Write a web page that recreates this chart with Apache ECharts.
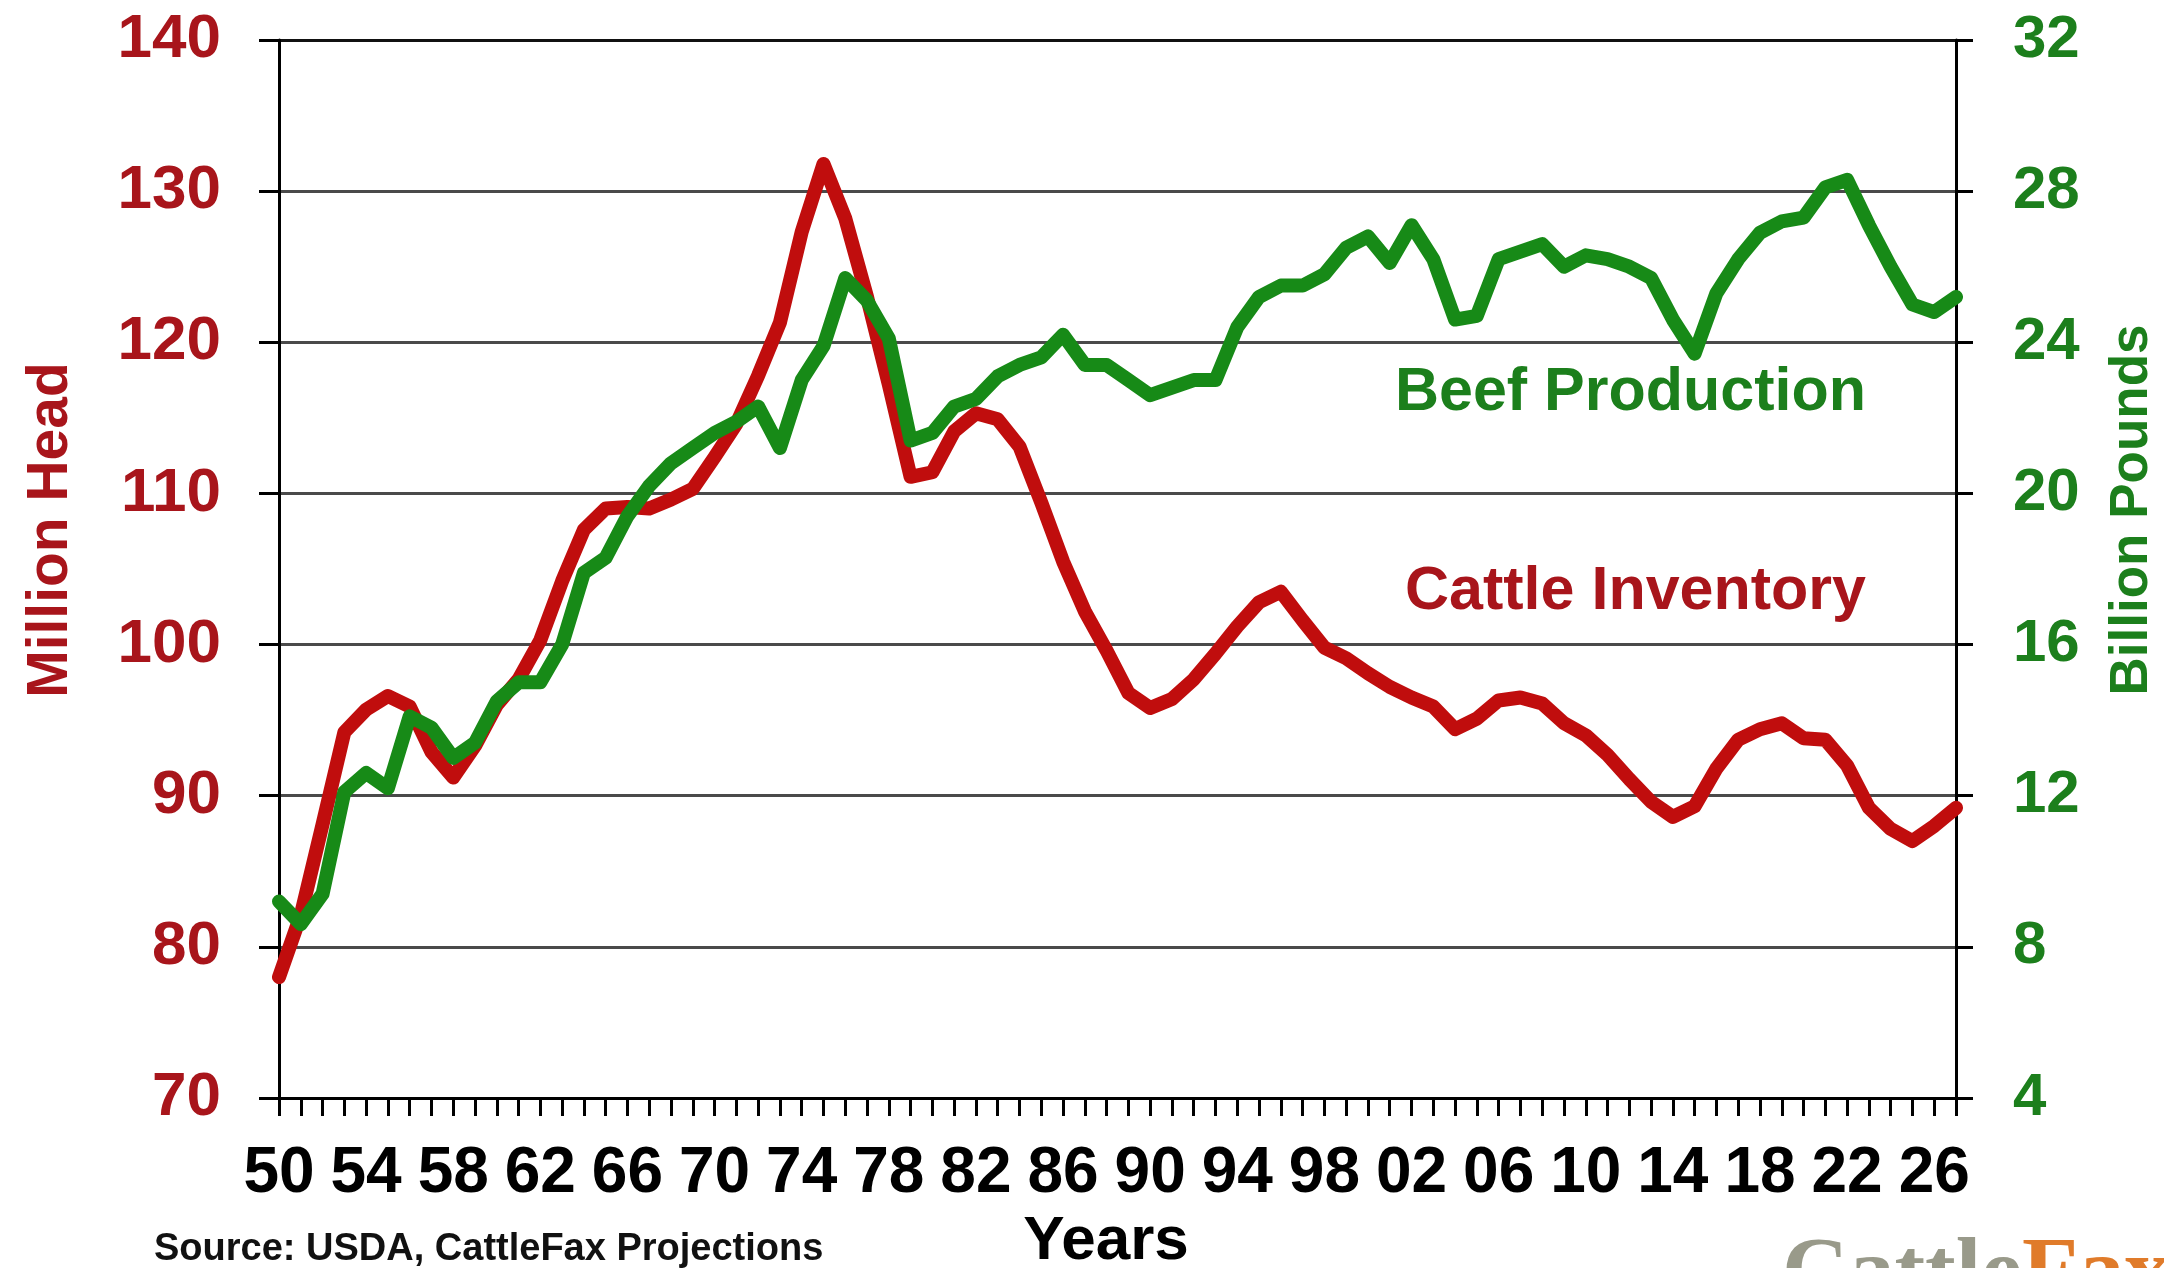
<!DOCTYPE html>
<html>
<head>
<meta charset="utf-8">
<title>Cattle Inventory vs Beef Production</title>
<script src="https://cdn.jsdelivr.net/npm/echarts/dist/echarts.min.js"></script>
<style>
  html, body { margin: 0; padding: 0; background: #fff; }
  #chart { width: 2164px; height: 1268px; }
</style>
</head>
<body>
<div id="chart"></div>
<script>
// years 1950 .. 2027 (labels show the last two digits every 4 years)
var years = []
for (var y = 1950; y <= 2027; y++) years.push(String(y))

// million head, Jan 1 inventory
var cattleInventory = [
  78.0, 82.1, 88.1, 94.2, 95.7, 96.6, 95.9, 92.9, 91.2, 93.3,
  96.0, 97.7, 100.3, 104.2, 107.6, 109.0, 109.1, 109.0, 109.6, 110.3,
  112.4, 114.6, 117.8, 121.3, 127.3, 131.8, 128.2, 123.0, 117.2, 111.1,
  111.4, 114.1, 115.3, 114.9, 113.1, 109.4, 105.5, 102.2, 99.6, 96.8,
  95.8, 96.4, 97.7, 99.4, 101.2, 102.8, 103.5, 101.6, 99.8, 99.1,
  98.1, 97.2, 96.5, 95.9, 94.4, 95.1, 96.3, 96.5, 96.1, 94.8,
  94.0, 92.7, 91.1, 89.6, 88.6, 89.3, 91.8, 93.7, 94.4, 94.8,
  93.8, 93.7, 92.0, 89.2, 87.8, 87.0, 88.0, 89.2
]

// billion pounds
var beefProduction = [
  9.2, 8.6, 9.4, 12.1, 12.6, 12.2, 14.1, 13.8, 13.0, 13.4,
  14.5, 15.0, 15.0, 16.0, 17.9, 18.3, 19.4, 20.2, 20.8, 21.2,
  21.6, 21.9, 22.3, 21.2, 23.0, 23.9, 25.7, 25.1, 24.1, 21.4,
  21.6, 22.3, 22.5, 23.1, 23.4, 23.6, 24.2, 23.4, 23.4, 23.0,
  22.6, 22.8, 23.0, 23.0, 24.4, 25.2, 25.5, 25.5, 25.8, 26.5,
  26.8, 26.1, 27.1, 26.2, 24.6, 24.7, 26.2, 26.4, 26.6, 26.0,
  26.3, 26.2, 26.0, 25.7, 24.6, 23.7, 25.3, 26.2, 26.9, 27.2,
  27.3, 28.1, 28.3, 27.1, 26.0, 25.0, 24.8, 25.2
]

var RED = '#c00d0d'
var RED_TEXT = '#a8151b'
var GREEN = '#178a17'
var GREEN_TEXT = '#1c7f1c'
var FONT = '"Liberation Sans", Arial, sans-serif'
var SERIF = '"Liberation Serif", "DejaVu Serif", serif'

var chart = echarts.init(document.getElementById('chart'))

var option = {
  backgroundColor: '#fff',
  animation: false,
  textStyle: { fontFamily: FONT },
  grid: { left: 279, right: 208, top: 40, bottom: 170, containLabel: false },
  xAxis: {
    type: 'category',
    data: years,
    boundaryGap: false,
    axisLine: { show: true, lineStyle: { color: '#000', width: 3 } },
    axisTick: { show: true, interval: 0, length: 18, lineStyle: { color: '#000', width: 3 } },
    axisLabel: {
      interval: 3,
      margin: 44,
      color: '#000',
      fontSize: 64,
      fontWeight: 'bold',
      fontFamily: FONT,
      formatter: function (v) { return v.slice(2) }
    },
    splitLine: { show: false }
  },
  yAxis: [
    {
      type: 'value',
      position: 'left',
      min: 70,
      max: 140,
      interval: 10,
      axisLine: { show: true, lineStyle: { color: '#000', width: 3 } },
      axisTick: { show: true, length: 20, lineStyle: { color: '#000', width: 3 } },
      axisLabel: { margin: 58, color: RED_TEXT, fontSize: 62, fontWeight: 'bold', fontFamily: FONT },
      splitLine: {
        show: true,
        lineStyle: {
          color: ['#4a4a4a', '#4a4a4a', '#4a4a4a', '#4a4a4a', '#4a4a4a', '#4a4a4a', '#4a4a4a', '#111'],
          width: 3
        }
      }
    },
    {
      type: 'value',
      position: 'right',
      min: 4,
      max: 32,
      interval: 4,
      axisLine: { show: true, lineStyle: { color: '#000', width: 3 } },
      axisTick: { show: true, length: 17, lineStyle: { color: '#000', width: 3 } },
      axisLabel: { margin: 57, color: GREEN_TEXT, fontSize: 60, fontWeight: 'bold', fontFamily: FONT },
      splitLine: { show: false }
    }
  ],
  series: [
    {
      name: 'Cattle Inventory',
      type: 'line',
      yAxisIndex: 0,
      data: cattleInventory,
      showSymbol: false,
      lineStyle: { color: RED, width: 14, join: 'round', cap: 'round' },
      z: 3
    },
    {
      name: 'Beef Production',
      type: 'line',
      yAxisIndex: 1,
      data: beefProduction,
      showSymbol: false,
      lineStyle: { color: GREEN, width: 14, join: 'round', cap: 'round' },
      z: 4
    }
  ],
  graphic: [
    {
      type: 'text',
      x: 51, y: 530, rotation: Math.PI / 2,
      style: { text: 'Million Head', fill: RED_TEXT, font: 'bold 57px ' + FONT, textAlign: 'center', textVerticalAlign: 'middle' }
    },
    {
      type: 'text',
      x: 2132, y: 510, rotation: Math.PI / 2,
      style: { text: 'Billion Pounds', fill: GREEN_TEXT, font: 'bold 53px ' + FONT, textAlign: 'center', textVerticalAlign: 'middle' }
    },
    {
      type: 'text',
      x: 1866, y: 393,
      style: { text: 'Beef Production', fill: GREEN_TEXT, font: 'bold 61px ' + FONT, textAlign: 'right', textVerticalAlign: 'middle' }
    },
    {
      type: 'text',
      x: 1866, y: 592,
      style: { text: 'Cattle Inventory', fill: RED_TEXT, font: 'bold 61px ' + FONT, textAlign: 'right', textVerticalAlign: 'middle' }
    },
    {
      type: 'text',
      x: 1106, y: 1242,
      style: { text: 'Years', fill: '#000', font: 'bold 62px ' + FONT, textAlign: 'center', textVerticalAlign: 'middle' }
    },
    {
      type: 'text',
      x: 154, y: 1250,
      style: { text: 'Source: USDA, CattleFax Projections', fill: '#111', font: 'bold 38px ' + FONT, textAlign: 'left', textVerticalAlign: 'middle' }
    },
    {
      type: 'text',
      x: 1782, y: 1230,
      style: {
        text: '{a|Cattle}{b|Fax}',
        textVerticalAlign: 'top',
        rich: {
          a: { fill: '#999a8a', font: 'bold 92px ' + SERIF },
          b: { fill: '#e07b2a', font: 'bold 92px ' + SERIF }
        }
      }
    }
  ]
}

chart.setOption(option)
</script>
</body>
</html>
